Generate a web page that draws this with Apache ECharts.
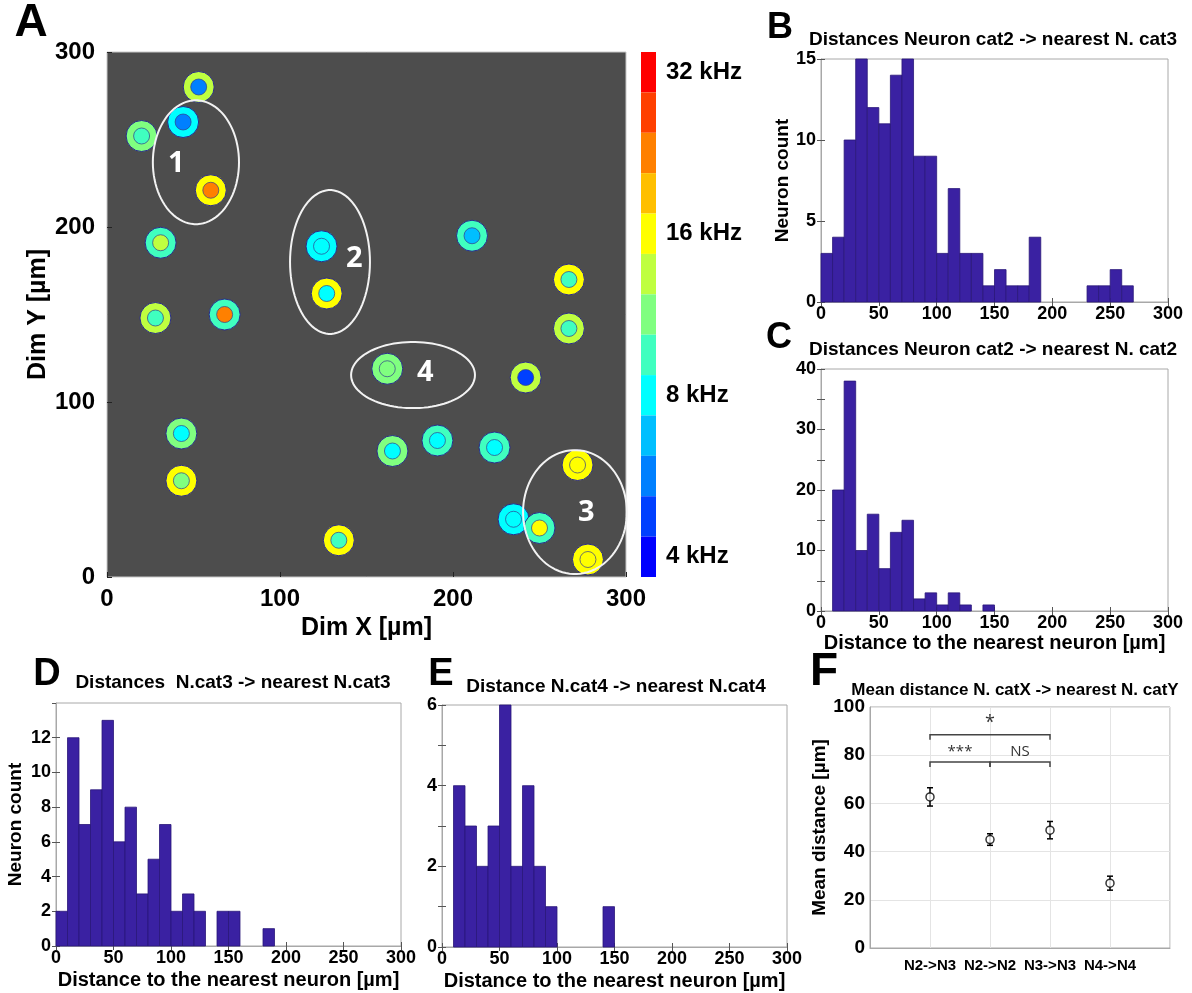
<!DOCTYPE html>
<html style="height: 100%" lang="en">
<head>
<meta charset="UTF-8">
<title>Neuron distances</title>
</head>
<body style="height: 100%; margin: 0; background: #fff">
<div id="main" style="width: 1192px; height: 993px"></div>

<script src="https://cdn.jsdelivr.net/npm/echarts@6/dist/echarts.min.js"></script>
<script type="text/javascript">

// ---- panel A: neuron map (x, y in µm, outer ring / inner dot frequency in kHz)
var neuronX = [53, 44, 20, 60, 31, 124, 127, 211, 267, 267, 28, 68, 162, 242, 43, 43, 165, 191, 224, 272, 235, 250, 278, 134];
var neuronY = [280, 260, 252, 221, 191, 189, 162, 195, 170, 142, 148, 150, 119, 114, 82, 55, 72, 78, 74, 64, 33, 28, 10, 21];
var outerKHz = [13.5, 8, 11.3, 16, 9.5, 8, 16, 9.5, 16, 13.5, 13.5, 9.5, 11.3, 13.5, 11.3, 16, 11.3, 9.5, 9.5, 16, 8, 9.5, 16, 16];
var innerKHz = [5.7, 5.7, 9.5, 22.6, 13.5, 8, 8, 6.7, 9.5, 9.5, 9.5, 22.6, 11.3, 4.8, 8, 11.3, 8, 8, 8, 16, 8, 16, 16, 9.5];

// clusters (ellipses) and their numbers
var clusterNames = ['1', '2', '3', '4'];
var ellX = [51.4, 128.9, 270.5, 176.9];
var ellY = [237, 180, 37.1, 115.4];
var ellRx = [24.9, 23.1, 30, 35.8];
var ellRy = [35.4, 41.1, 35.4, 18.9];
var labelX = [40, 143, 277, 184];
var labelY = [236, 182, 37, 117];

// colour scale, quarter octave bands from 4 kHz to 32 kHz
var bandColors = ['#0000ff', '#0040ff', '#0080ff', '#00bfff', '#00ffff', '#40ffbf', '#80ff80',
                  '#bfff40', '#ffff00', '#ffbf00', '#ff8000', '#ff4000', '#ff0000'];
var bandLabels = {0: '4 kHz', 4: '8 kHz', 8: '16 kHz', 12: '32 kHz'};

// ---- histograms, 10 µm bins starting at 0
var binWidth = 10;
var histB = [3, 4, 10, 15, 12, 11, 14, 15, 9, 9, 3, 7, 3, 3, 1, 2, 1, 1, 4, 0, 0, 0, 0, 1, 1, 2, 1, 0, 0, 0];
var histC = [0, 20, 38, 10, 16, 7, 13, 15, 2, 3, 1, 3, 1, 0, 1];
var histD = [2, 12, 7, 9, 13, 6, 8, 3, 5, 7, 2, 3, 2, 0, 2, 2, 0, 0, 1];
var histE = [0, 4, 3, 2, 3, 6, 2, 4, 2, 1, 0, 0, 0, 0, 1];

// ---- panel F: mean distances
var fCats = ['N2->N3', 'N2->N2', 'N3->N3', 'N4->N4'];
var fMean = [62.7, 45, 48.9, 26.9];
var fErr = [3.8, 2.4, 3.6, 2.9];
// significance brackets: from category, to category, height, text
var brFrom = [1, 1, 2];
var brTo = [3, 2, 3];
var brY = [88.5, 77.2, 77.2];
var brText = ['*', '***', 'NS'];


var FONT = "'Liberation Sans', Arial, sans-serif";
var boxColor = '#a8a8a8';
var tickColor = '#555';
var barColor = '#3a21a2';

var myChart = echarts.init(document.getElementById('main'));

var pieces = bandColors.map(function (c, i) {
    return {
        min: 4 * Math.pow(2, (i - 0.5) / 4),
        max: 4 * Math.pow(2, (i + 0.5) / 4),
        color: c,
        label: bandLabels[i] || ' '
    };
});

var grids = [
    {left: 107, top: 52, width: 519, height: 525, backgroundColor: '#4d4d4d', borderColor: '#c8c8c8'},
    {left: 821, top: 59, width: 347, height: 243},
    {left: 821, top: 369, width: 347, height: 242},
    {left: 56, top: 703, width: 345, height: 243},
    {left: 442, top: 705, width: 345, height: 242},
    {left: 870, top: 707, width: 300, height: 241}
];
grids.forEach(function (g) {
    g.show = true;
    g.borderWidth = 1;
    if (!g.borderColor) g.borderColor = boxColor;
});

var xAxes = [];
var yAxes = [];

// panel A axes
xAxes.push({
    gridIndex: 0, type: 'value', min: 0, max: 300, interval: 100,
    axisLine: {show: false},
    axisTick: {inside: true, length: 5, lineStyle: {color: '#222'}},
    splitLine: {show: false},
    axisLabel: {fontSize: 24, fontWeight: 'bold', color: '#000', margin: 10},
    name: 'Dim X [µm]', nameLocation: 'middle', nameGap: 38,
    nameTextStyle: {fontSize: 25, fontWeight: 'bold', color: '#000'}
});
yAxes.push({
    gridIndex: 0, type: 'value', min: 0, max: 300, interval: 100,
    axisLine: {show: false},
    axisTick: {inside: true, length: 5, lineStyle: {color: '#222'}},
    splitLine: {show: false},
    axisLabel: {fontSize: 24, fontWeight: 'bold', color: '#000', margin: 12},
    name: 'Dim Y [µm]', nameLocation: 'middle', nameGap: 56,
    nameTextStyle: {fontSize: 25, fontWeight: 'bold', color: '#000'}
});

// histogram axes (grid 1..4)
var histSetup = [
    {grid: 1, ymax: 15, yint: 5, labelEvery: 5, yname: 'Neuron count', ygap: 26, xname: ''},
    {grid: 2, ymax: 40, yint: 5, labelEvery: 10, yname: '', ygap: 0, xname: 'Distance to the nearest neuron [µm]', xgap: 22},
    {grid: 3, ymax: 14, yint: 2, labelEvery: 2, yname: 'Neuron count', ygap: 31, xname: 'Distance to the nearest neuron [µm]', xgap: 24, hideMax: true},
    {grid: 4, ymax: 6, yint: 1, labelEvery: 2, yname: '', ygap: 0, xname: 'Distance to the nearest neuron [µm]', xgap: 24}
];
histSetup.forEach(function (h) {
    xAxes.push({
        gridIndex: h.grid, type: 'value', min: 0, max: 300, interval: 50,
        axisLine: {lineStyle: {color: boxColor}},
        axisTick: {inside: true, length: 4, lineStyle: {color: tickColor}},
        splitLine: {show: false},
        axisLabel: {fontSize: 18, fontWeight: 'bold', color: '#000', margin: 3},
        name: h.xname, nameLocation: 'middle', nameGap: h.xgap || 0,
        nameTextStyle: {fontSize: 20, fontWeight: 'bold', color: '#000'}
    });
    yAxes.push({
        gridIndex: h.grid, type: 'value', min: 0, max: h.ymax, interval: h.yint,
        axisLine: {lineStyle: {color: boxColor}},
        axisTick: {inside: true, length: 4, lineStyle: {color: tickColor}},
        splitLine: {show: false},
        axisLabel: {
            fontSize: 18, fontWeight: 'bold', color: '#000', margin: 5,
            showMaxLabel: !h.hideMax,
            formatter: function (v) { return v % h.labelEvery === 0 ? v : ''; }
        },
        name: h.yname, nameLocation: 'middle', nameGap: h.ygap,
        nameTextStyle: {fontSize: 19, fontWeight: 'bold', color: '#000'}
    });
});

// panel F axes
xAxes.push({
    gridIndex: 5, type: 'value', min: 0, max: 5, interval: 1,
    axisLine: {lineStyle: {color: boxColor}},
    axisTick: {show: false},
    splitLine: {show: true, lineStyle: {color: '#e4e4e4'}},
    axisLabel: {
        fontSize: 15, fontWeight: 'bold', color: '#000', margin: 10,
        formatter: function (v) { return fCats[v - 1] || ''; }
    }
});
yAxes.push({
    gridIndex: 5, type: 'value', min: 0, max: 100, interval: 20,
    axisLine: {lineStyle: {color: boxColor}},
    axisTick: {show: false},
    splitLine: {show: true, lineStyle: {color: '#e4e4e4'}},
    axisLabel: {fontSize: 19, fontWeight: 'bold', color: '#000', margin: 5},
    name: 'Mean distance [µm]', nameLocation: 'middle', nameGap: 34,
    nameTextStyle: {fontSize: 19, fontWeight: 'bold', color: '#000'}
});

// mirrored tick marks on top / right of the histograms
histSetup.forEach(function (h) {
    xAxes.push({
        gridIndex: h.grid, type: 'value', position: 'top', min: 0, max: 300, interval: 50,
        axisLine: {show: false}, axisLabel: {show: false}, splitLine: {show: false},
        axisTick: {inside: true, length: 4, lineStyle: {color: tickColor}}
    });
    yAxes.push({
        gridIndex: h.grid, type: 'value', position: 'right', min: 0, max: h.ymax, interval: h.yint,
        axisLine: {show: false}, axisLabel: {show: false}, splitLine: {show: false},
        axisTick: {inside: true, length: 4, lineStyle: {color: tickColor}}
    });
});

function histSeries(counts, axisIdx) {
    var data = [];
    counts.forEach(function (c, i) {
        if (c > 0) data.push([i * binWidth, c]);
    });
    return {
        type: 'custom',
        xAxisIndex: axisIdx, yAxisIndex: axisIdx,
        data: data,
        encode: {x: 0, y: 1},
        renderItem: function (params, api) {
            var x0 = api.value(0);
            var p0 = api.coord([x0, api.value(1)]);
            var p1 = api.coord([x0 + binWidth, 0]);
            return {
                type: 'rect',
                shape: {x: p0[0], y: p0[1], width: p1[0] - p0[0], height: p1[1] - p0[1]},
                style: {fill: barColor, stroke: '#2a1678', lineWidth: 0.8}
            };
        }
    };
}

var series = [
    {   // outer rings
        type: 'scatter', xAxisIndex: 0, yAxisIndex: 0,
        symbolSize: 31,
        itemStyle: {borderColor: '#2a2a8c', borderWidth: 1, opacity: 1},
        data: neuronX.map(function (x, i) { return [x, neuronY[i], outerKHz[i]]; })
    },
    {   // inner dots
        type: 'scatter', xAxisIndex: 0, yAxisIndex: 0,
        symbolSize: 16,
        itemStyle: {borderColor: 'rgba(50,60,140,0.7)', borderWidth: 1, opacity: 1},
        data: neuronX.map(function (x, i) { return [x, neuronY[i], innerKHz[i]]; })
    },
    {   // cluster ellipses
        type: 'custom', xAxisIndex: 0, yAxisIndex: 0,
        data: ellX.map(function (x, i) { return [x, ellY[i], ellRx[i], ellRy[i]]; }),
        encode: {x: 0, y: 1},
        z: 5,
        renderItem: function (params, api) {
            var c = api.coord([api.value(0), api.value(1)]);
            var r = api.size([api.value(2), api.value(3)]);
            var pts = [];
            for (var k = 0; k < 90; k++) {
                var t = k / 90 * Math.PI * 2;
                pts.push([c[0] + r[0] * Math.cos(t), c[1] + r[1] * Math.sin(t)]);
            }
            return {type: 'polygon', shape: {points: pts}, style: {fill: 'none', stroke: '#f2f2f2', lineWidth: 2}};
        }
    },
    {   // cluster numbers
        type: 'custom', xAxisIndex: 0, yAxisIndex: 0,
        data: labelX.map(function (x, i) { return [x, labelY[i]]; }),
        encode: {x: 0, y: 1},
        z: 6,
        renderItem: function (params, api) {
            var p = api.coord([api.value(0), api.value(1)]);
            return {
                type: 'text', x: p[0], y: p[1],
                style: {
                    text: clusterNames[params.dataIndex], fill: '#ffffff',
                    font: "bold 29px 'Open Sans', sans-serif",
                    align: 'center', verticalAlign: 'middle',
                    textAlign: 'center', textVerticalAlign: 'middle'
                }
            };
        }
    },
    histSeries(histB, 1),
    histSeries(histC, 2),
    histSeries(histD, 3),
    histSeries(histE, 4),
    {   // error bars
        type: 'custom', xAxisIndex: 5, yAxisIndex: 5,
        data: fMean.map(function (m, i) { return [i + 1, m, fErr[i]]; }),
        encode: {x: 0, y: 1},
        renderItem: function (params, api) {
            var x = api.value(0), m = api.value(1), e = api.value(2);
            var top = api.coord([x, m + e]);
            var bot = api.coord([x, m - e]);
            var st = {stroke: '#000', lineWidth: 1.5};
            return {
                type: 'group',
                children: [
                    {type: 'line', shape: {x1: top[0], y1: top[1], x2: bot[0], y2: bot[1]}, style: st},
                    {type: 'line', shape: {x1: top[0] - 3, y1: top[1], x2: top[0] + 3, y2: top[1]}, style: st},
                    {type: 'line', shape: {x1: bot[0] - 3, y1: bot[1], x2: bot[0] + 3, y2: bot[1]}, style: st}
                ]
            };
        }
    },
    {   // means
        type: 'scatter', xAxisIndex: 5, yAxisIndex: 5,
        symbol: 'circle', symbolSize: 8, z: 4,
        itemStyle: {color: '#fff', borderColor: '#000', borderWidth: 1.5},
        data: fMean.map(function (m, i) { return [i + 1, m]; })
    },
    {   // significance brackets
        type: 'custom', xAxisIndex: 5, yAxisIndex: 5,
        data: brFrom.map(function (a, i) { return [a, brTo[i], brY[i]]; }),
        encode: {x: [0, 1], y: 2},
        renderItem: function (params, api) {
            var a = api.coord([api.value(0), api.value(2)]);
            var b = api.coord([api.value(1), api.value(2)]);
            var txt = brText[params.dataIndex];
            var st = {stroke: '#444', lineWidth: 1.5, fill: 'none'};
            return {
                type: 'group',
                children: [
                    {type: 'polyline', shape: {points: [[a[0], a[1] + 5], [a[0], a[1]], [b[0], b[1]], [b[0], b[1] + 5]]}, style: st},
                    {
                        type: 'text', x: (a[0] + b[0]) / 2, y: a[1] - (txt === '*' ? 12 : 10),
                        style: {
                            text: txt, fill: '#333',
                            font: (txt === '*' ? '18px' : '15px') + " 'Open Sans', sans-serif",
                            align: 'center', verticalAlign: 'middle',
                            textAlign: 'center', textVerticalAlign: 'middle'
                        }
                    }
                ]
            };
        }
    }
];

function label(text, x, y, size) {
    return {
        type: 'text', x: x, y: y,
        style: {
            text: text, fill: '#000', font: 'bold ' + size + 'px ' + FONT,
            align: 'center', verticalAlign: 'middle',
            textAlign: 'center', textVerticalAlign: 'middle'
        }
    };
}

var option = {
    backgroundColor: '#fff',
    animation: false,
    textStyle: {fontFamily: FONT},
    grid: grids,
    xAxis: xAxes,
    yAxis: yAxes,
    visualMap: {
        type: 'piecewise',
        seriesIndex: [0, 1],
        dimension: 2,
        pieces: pieces,
        orient: 'vertical',
        align: 'left',
        left: 641, top: 52,
        padding: 0,
        itemWidth: 15, itemHeight: 525 / 13, itemGap: 0,
        itemSymbol: 'rect',
        textGap: 10,
        selectedMode: false,
        hoverLink: false,
        textStyle: {fontSize: 24, fontWeight: 'bold', color: '#000', fontFamily: FONT}
    },
    graphic: [
        label('A', 31, 23, 46),
        label('B', 780, 28, 36),
        label('C', 779, 338, 36),
        label('D', 47, 675, 38),
        label('E', 441, 675, 38),
        label('F', 824, 672, 46),
        label('Distances Neuron cat2 -> nearest N. cat3', 993, 40, 19),
        label('Distances Neuron cat2 -> nearest N. cat2', 993, 350, 19),
        label('Distances  N.cat3 -> nearest N.cat3', 233, 683, 19),
        label('Distance N.cat4 -> nearest N.cat4', 616, 687, 19),
        label('Mean distance N. catX -> nearest N. catY', 1015, 690, 17)
    ],
    series: series
};

myChart.setOption(option);

</script>
</body>
</html>
